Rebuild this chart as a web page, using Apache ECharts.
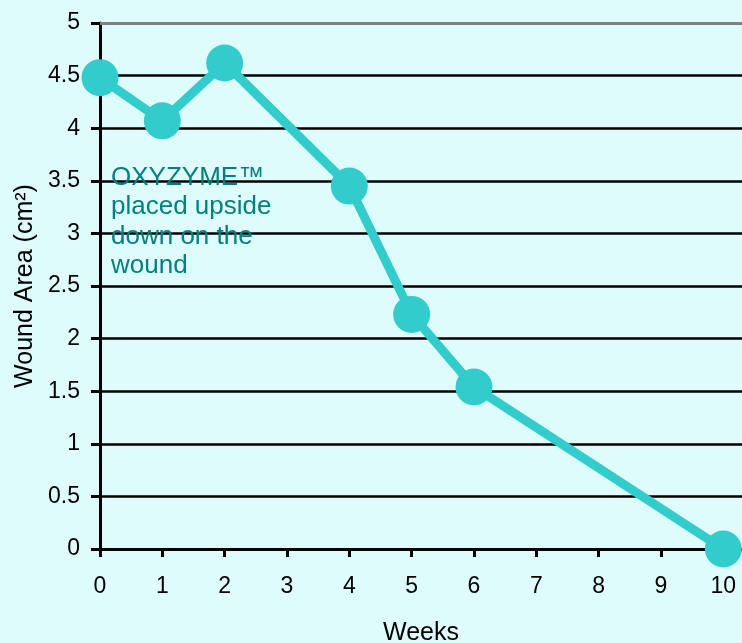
<!DOCTYPE html>
<html><head><meta charset="utf-8">
<script src="https://cdn.jsdelivr.net/npm/echarts@6/dist/echarts.min.js"></script>
<style>html,body{margin:0;padding:0;background:#DFFCFC;}#c{width:742px;height:643px;}</style>
</head><body><div id="c"></div>
<script>
var weeks = [0, 1, 2, 4, 5, 6, 10];
var woundArea = [4.48, 4.07, 4.62, 3.45, 2.23, 1.54, 0];
var xTicks = [0, 1, 2, 3, 4, 5, 6, 7, 8, 9, 10];
var yTicks = [0, 0.5, 1, 1.5, 2, 2.5, 3, 3.5, 4, 4.5, 5];
var annotation = ['OXYZYME\u2122', 'placed upside', 'down on the', 'wound'];

var chart = echarts.init(document.getElementById('c'));
var labelFont = '"Liberation Sans", Arial, sans-serif';
chart.setOption({
  backgroundColor: '#DFFCFC',
  animation: false,
  grid: {left: 100, right: 0, top: 23, bottom: 94, containLabel: false, outerBoundsMode: 'none'},
  xAxis: [{
    type: 'value', min: 0, max: 10.3, interval: 1,
    name: 'Weeks', nameLocation: 'middle', nameGap: 72,
    nameTextStyle: {fontFamily: 'Liberation Sans', fontSize: 25, color: '#000'},
    axisLine: {lineStyle: {color: '#000', width: 3}},
    axisTick: {show: true, length: 8, customValues: xTicks, lineStyle: {color: '#000', width: 3}},
    axisLabel: {customValues: xTicks, margin: 26, fontFamily: labelFont, fontSize: 23, color: '#000'},
    splitLine: {show: false}
  }, {
    type: 'value', min: 0, max: 10.3, position: 'top',
    axisLine: {lineStyle: {color: '#808080', width: 3}},
    axisTick: {show: false}, axisLabel: {show: false}, splitLine: {show: false}
  }],
  yAxis: {
    type: 'value', min: 0, max: 5, interval: 0.5,
    name: 'Wound Area (cm\u00B2)', nameLocation: 'middle', nameGap: 61,
    nameTextStyle: {fontFamily: 'Liberation Sans', fontSize: 25, color: '#000'},
    axisLine: {show: true, lineStyle: {color: '#000', width: 3}},
    axisTick: {show: true, length: 9, lineStyle: {color: '#000', width: 3}},
    axisLabel: {margin: 20, fontFamily: labelFont, fontSize: 23, color: '#000'},
    splitLine: {show: true, showMaxLine: false, lineStyle: {color: '#000', width: 2.5}}
  },
  graphic: [{
    type: 'text', left: 111, top: 163, z: 10,
    style: {text: annotation.join('\n'), fill: '#008080', font: '26px "Liberation Sans", Arial, sans-serif', lineHeight: 29.5}
  }],
  series: [{
    type: 'line',
    data: weeks.map(function (w, i) { return [w, woundArea[i]]; }),
    symbol: 'circle', symbolSize: 37,
    lineStyle: {color: '#33CCCC', width: 9},
    itemStyle: {color: '#33CCCC'},
    z: 5
  }]
});
</script></body></html>
